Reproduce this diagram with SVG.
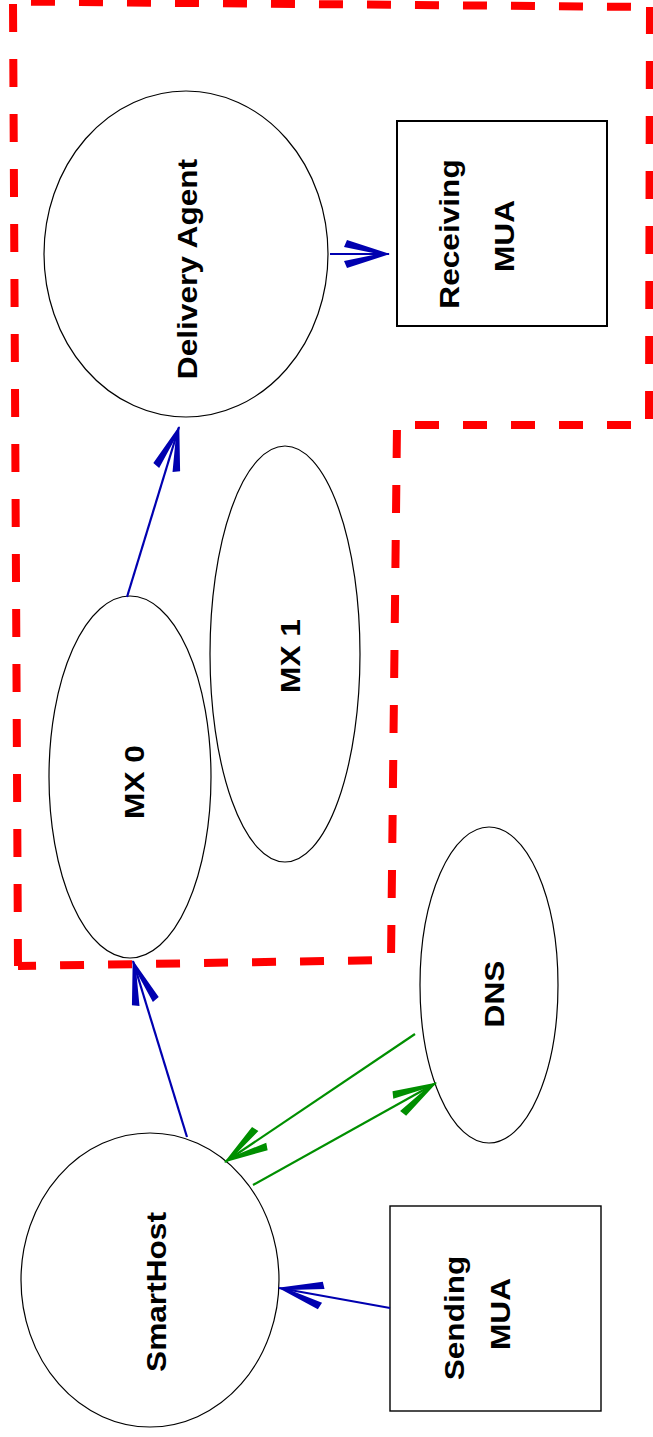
<svg xmlns="http://www.w3.org/2000/svg" width="653" height="1437" viewBox="0 0 653 1437">
  <style>
    .node { fill: #ffffff; stroke: #000000; stroke-width: 1.2; }
    .box { fill: #ffffff; stroke: #000000; }
    .lbl { font-family: "Liberation Sans", Arial, sans-serif; font-weight: bold; font-size: 28px; fill: #000000; text-anchor: middle; }
    .blue { stroke: #0000b0; stroke-width: 2.2; fill: none; }
    .green { stroke: #008f00; stroke-width: 2.2; fill: none; }
    .dh { stroke: #ff0000; stroke-width: 8; fill: none; stroke-dasharray: 24 24; }
    .dv { stroke: #ff0000; stroke-width: 8; fill: none; stroke-dasharray: 28 27; }
  </style>
  <defs>
    <marker id="ahBlue" markerUnits="userSpaceOnUse" viewBox="-48 -16 52 32" markerWidth="52" markerHeight="32" refX="0" refY="0" orient="auto">
      <path d="M1,0 L-42,-14 L-45,-7 L-11,0 L-45,7 L-42,14 Z" fill="#0000b0"/>
    </marker>
    <marker id="ahGreen" markerUnits="userSpaceOnUse" viewBox="-48 -16 52 32" markerWidth="52" markerHeight="32" refX="0" refY="0" orient="auto">
      <path d="M1,0 L-42,-14 L-45,-7 L-11,0 L-45,7 L-42,14 Z" fill="#008f00"/>
    </marker>
  </defs>

  <g id="boundary">
    <line class="dh" x1="13" y1="1.5" x2="650" y2="7" stroke-dashoffset="30"/>
    <line class="dv" x1="650" y1="7" x2="649" y2="425" stroke-dashoffset="1"/>
    <line class="dh" x1="649" y1="425" x2="397" y2="425" stroke-dashoffset="30"/>
    <line class="dv" x1="397" y1="425" x2="391" y2="960" stroke-dashoffset="50"/>
    <line class="dh" x1="391" y1="960" x2="18" y2="966" stroke-dashoffset="29"/>
    <line class="dv" x1="18" y1="966" x2="13" y2="1.5" stroke-dashoffset="1"/>
  </g>

  <g id="delivery-agent">
    <ellipse class="node" cx="186" cy="254" rx="142" ry="163"/>
    <text class="lbl" transform="translate(197,269) rotate(-90) scale(1.13,1)">Delivery Agent</text>
  </g>

  <g id="receiving-mua">
    <rect class="box" x="397" y="121" width="210" height="205" stroke-width="2"/>
    <text class="lbl" transform="translate(459,234) rotate(-90) scale(1.13,1)">Receiving</text>
    <text class="lbl" transform="translate(514,236) rotate(-90) scale(1.13,1)">MUA</text>
  </g>

  <g id="mx0">
    <ellipse class="node" cx="130" cy="777" rx="81" ry="181"/>
    <text class="lbl" transform="translate(144,782) rotate(-90) scale(1.13,1)">MX 0</text>
  </g>

  <g id="mx1">
    <ellipse class="node" cx="285" cy="654" rx="75" ry="208"/>
    <text class="lbl" transform="translate(300,656) rotate(-90) scale(1.13,1)">MX 1</text>
  </g>

  <g id="dns">
    <ellipse class="node" cx="489" cy="985" rx="69" ry="158"/>
    <text class="lbl" transform="translate(504,994) rotate(-90) scale(1.13,1)">DNS</text>
  </g>

  <g id="smarthost">
    <ellipse class="node" cx="150" cy="1280" rx="129" ry="147"/>
    <text class="lbl" transform="translate(166,1292) rotate(-90) scale(1.13,1)">SmartHost</text>
  </g>

  <g id="sending-mua">
    <rect class="box" x="390" y="1206" width="211" height="205" stroke-width="1.4"/>
    <text class="lbl" transform="translate(464,1318) rotate(-90) scale(1.13,1)">Sending</text>
    <text class="lbl" transform="translate(510,1314) rotate(-90) scale(1.13,1)">MUA</text>
  </g>

  <g id="connectors">
    <line class="blue" x1="330" y1="254" x2="389" y2="254" marker-end="url(#ahBlue)"/>
    <line class="blue" x1="127" y1="597" x2="179" y2="427" marker-end="url(#ahBlue)"/>
    <line class="blue" x1="187" y1="1137" x2="133" y2="961" marker-end="url(#ahBlue)"/>
    <line class="blue" x1="390" y1="1308" x2="279" y2="1288" marker-end="url(#ahBlue)"/>
    <line class="green" x1="415" y1="1034" x2="225" y2="1162" marker-end="url(#ahGreen)"/>
    <line class="green" x1="253" y1="1185" x2="436" y2="1083" marker-end="url(#ahGreen)"/>
  </g>
</svg>
